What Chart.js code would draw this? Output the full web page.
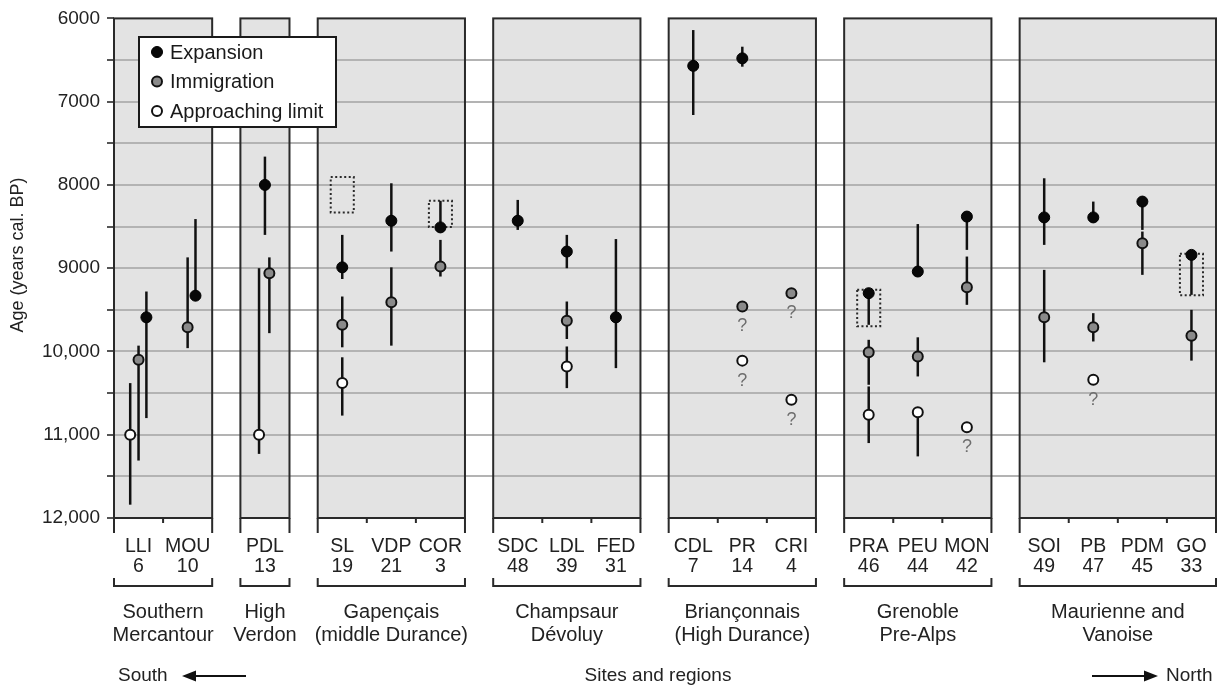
<!DOCTYPE html>
<html>
<head>
<meta charset="utf-8">
<script src="https://cdn.jsdelivr.net/npm/chart.js@4.4.1/dist/chart.umd.min.js"></script>
<style>
html, body { margin: 0; padding: 0; background: #fff; }
</style>
</head>
<body>
<canvas id="chart" width="1223" height="686"></canvas>
<script>
// sites, south to north
const sites = ['LLI','MOU','PDL','SL','VDP','COR','SDC','LDL','FED','CDL','PR','CRI','PRA','PEU','MON','SOI','PB','PDM','GO'];
const siteNums = ['6','10','13','19','21','3','48','39','31','7','14','4','46','44','42','49','47','45','33'];
const regionNames = [['Southern','Mercantour'],['High','Verdon'],['Gapençais','(middle Durance)'],['Champsaur','Dévoluy'],['Briançonnais','(High Durance)'],['Grenoble','Pre-Alps'],['Maurienne and','Vanoise']];
const regionSiteCounts = [2,1,3,3,3,3,4];

// ages (years cal. BP), null = none
const expansion = [9590,9330,8000,8990,8430,8510,8430,8800,9590,6570,6480,null,9300,9040,8380,8390,8390,8200,8840];
const expansionRange = [[9280,10800],[8410,9330],[7660,8600],[8600,9130],[7980,8800],[8190,8510],[8180,8540],[8600,9000],[8650,10200],[6140,7160],[6340,6580],null,[9300,9680],[8470,9040],[8380,8780],[7920,8720],[8200,8390],[8200,8540],[8840,9320]];

const immigration = [10100,9710,9060,9680,9410,8980,null,9630,null,null,9460,9300,10010,10060,9230,9590,9710,8700,9810];
const immigrationRange = [[9930,11310],[8870,9960],[8870,9780],[9340,9950],[8990,9930],[8660,9100],null,[9400,9850],null,null,null,null,[9860,10400],[9830,10300],[8860,9440],[9020,10130],[9540,9880],[8560,9080],[9500,10110]];
const immigrationUnsure = ['PR','CRI'];

const limit = [11000,null,11000,10380,null,null,null,10180,null,null,10110,10580,10760,10730,10910,null,10340,null,null];
const limitRange = [[10380,11840],null,[9000,11230],[10070,10770],null,null,null,[9940,10440],null,null,null,null,[10420,11100],[10730,11260],null,null,null,null,null];
const limitUnsure = ['PR','CRI','MON','PB'];

// dotted boxes
const boxedSites = ['SL','COR','PRA','GO'];
const boxedRange = [[7905,8330],[8190,8506],[9258,9698],[8826,9326]];

const yTicksMin = 6000, yTicksMax = 12000;

// small sideways shifts where bars of one site overlap [expansion, immigration, limit]
const jitter = { LLI: [0.16, 0, -0.17], MOU: [0.16, 0, 0], PDL: [0, 0.09, -0.12] };

const font = "'Liberation Sans', Arial, sans-serif";
const gap = 0.575;

let panels = [];
let siteX = [];
let pos = 0;
regionSiteCounts.forEach(n => {
    panels.push([pos, pos + n]);
    for (let i = 0; i < n; i++) siteX.push(pos + i + 0.5);
    pos += n + gap;
});
const xMax = pos - gap;

function buildPoints(values, ranges, unsure, k) {
    let pts = [];
    values.forEach((v, i) => {
        if (v === null) return;
        let j = jitter[sites[i]] ? jitter[sites[i]][k] : 0;
        pts.push({ x: siteX[i] + j, y: v, range: ranges[i], unsure: unsure.includes(sites[i]) });
    });
    return pts;
}

const panelPlugin = {
    id: 'panels',
    beforeDraw(chart) {
        const { ctx, scales: { x, y } } = chart;
        const top = y.getPixelForValue(yTicksMin), bottom = y.getPixelForValue(yTicksMax);
        ctx.save();
        ctx.fillStyle = '#e3e3e3';
        panels.forEach(p => {
            let l = x.getPixelForValue(p[0]), r = x.getPixelForValue(p[1]);
            ctx.fillRect(l, top, r - l, bottom - top);
        });
        ctx.restore();
    },
    beforeDatasetsDraw(chart) {
        const { ctx, scales: { x, y } } = chart;
        const top = y.getPixelForValue(yTicksMin), bottom = y.getPixelForValue(yTicksMax);
        ctx.save();
        ctx.strokeStyle = '#2a2a2a';
        ctx.lineWidth = 2;
        panels.forEach(p => {
            let l = x.getPixelForValue(p[0]), r = x.getPixelForValue(p[1]);
            ctx.strokeRect(l, top, r - l, bottom - top);
            ctx.beginPath();
            // edges run down a bit, inner ticks between sites
            ctx.moveTo(l, bottom); ctx.lineTo(l, bottom + 15);
            ctx.moveTo(r, bottom); ctx.lineTo(r, bottom + 15);
            for (let s = p[0] + 1; s < p[1] - 0.01; s++) {
                let px = x.getPixelForValue(s);
                ctx.moveTo(px, bottom); ctx.lineTo(px, bottom + 5);
            }
            // bracket under the site labels
            ctx.moveTo(l, bottom + 60); ctx.lineTo(l, bottom + 68);
            ctx.lineTo(r, bottom + 68); ctx.lineTo(r, bottom + 60);
            ctx.stroke();
        });

        // dotted boxes
        ctx.setLineDash([2, 2.5]);
        boxedSites.forEach((s, i) => {
            let cx = siteX[sites.indexOf(s)];
            let l = x.getPixelForValue(cx - 0.235), r = x.getPixelForValue(cx + 0.235);
            let t = y.getPixelForValue(boxedRange[i][0]), b = y.getPixelForValue(boxedRange[i][1]);
            ctx.strokeRect(l, t, r - l, b - t);
        });
        ctx.setLineDash([]);

        // error bars
        ctx.strokeStyle = '#111';
        ctx.lineWidth = 2.5;
        chart.data.datasets.forEach(ds => {
            ds.data.forEach(p => {
                if (!p.range) return;
                let px = x.getPixelForValue(p.x);
                ctx.beginPath();
                ctx.moveTo(px, y.getPixelForValue(p.range[0]));
                ctx.lineTo(px, y.getPixelForValue(p.range[1]));
                ctx.stroke();
            });
        });
        ctx.restore();
    },
    afterDraw(chart) {
        const { ctx, scales: { x, y } } = chart;
        const bottom = y.getPixelForValue(yTicksMax);
        ctx.save();
        ctx.textAlign = 'center';
        ctx.textBaseline = 'middle';

        // question marks under uncertain dates
        ctx.fillStyle = '#6e6e6e';
        ctx.font = '18px ' + font;
        chart.data.datasets.forEach(ds => {
            ds.data.forEach(p => {
                if (p.unsure) ctx.fillText('?', x.getPixelForValue(p.x), y.getPixelForValue(p.y) + 20);
            });
        });

        // region names
        ctx.fillStyle = '#222';
        ctx.font = '20px ' + font;
        panels.forEach((p, i) => {
            let cx = x.getPixelForValue((p[0] + p[1]) / 2);
            ctx.fillText(regionNames[i][0], cx, bottom + 94);
            ctx.fillText(regionNames[i][1], cx, bottom + 117);
        });

        // bottom line: South <-  Sites and regions  -> North
        ctx.font = '19px ' + font;
        ctx.fillText('Sites and regions', 658, 676);
        ctx.textAlign = 'left';
        ctx.fillText('South', 118, 676);
        ctx.fillText('North', 1166, 676);
        ctx.strokeStyle = '#111';
        ctx.fillStyle = '#111';
        ctx.lineWidth = 2;
        ctx.beginPath();
        ctx.moveTo(194, 676); ctx.lineTo(246, 676);
        ctx.moveTo(1092, 676); ctx.lineTo(1146, 676);
        ctx.stroke();
        ctx.beginPath();
        ctx.moveTo(182, 676); ctx.lineTo(196, 670.5); ctx.lineTo(196, 681.5); ctx.closePath();
        ctx.moveTo(1158, 676); ctx.lineTo(1144, 670.5); ctx.lineTo(1144, 681.5); ctx.closePath();
        ctx.fill();

        // y axis title
        ctx.save();
        ctx.translate(18, 255);
        ctx.rotate(-Math.PI / 2);
        ctx.textAlign = 'center';
        ctx.fillStyle = '#222';
        ctx.font = '18px ' + font;
        ctx.fillText('Age (years cal. BP)', 0, 0);
        ctx.restore();

        // legend
        ctx.fillStyle = '#fff';
        ctx.fillRect(139, 37, 197, 90);
        ctx.strokeStyle = '#1a1a1a';
        ctx.lineWidth = 2;
        ctx.strokeRect(139, 37, 197, 90);
        ctx.font = '20px ' + font;
        ctx.textAlign = 'left';
        chart.data.datasets.forEach((ds, i) => {
            let ly = 52 + i * 29.5;
            ctx.beginPath();
            ctx.arc(157, ly, ds.pointRadius, 0, Math.PI * 2);
            ctx.fillStyle = ds.pointBackgroundColor;
            ctx.fill();
            ctx.lineWidth = ds.pointBorderWidth;
            ctx.strokeStyle = ds.pointBorderColor;
            ctx.stroke();
            ctx.fillStyle = '#1a1a1a';
            ctx.fillText(ds.label, 170, ly + 1);
        });
        ctx.restore();
    }
};

function makeChart() {
    let ctx = document.getElementById('chart').getContext('2d');

    let chart = new Chart(ctx, {
        type: 'scatter',
        data: {
            datasets: [{
                label: 'Expansion',
                data: buildPoints(expansion, expansionRange, [], 0),
                pointBackgroundColor: '#080808',
                pointBorderColor: '#000',
                pointBorderWidth: 1,
                pointRadius: 5.5,
            }, {
                label: 'Immigration',
                data: buildPoints(immigration, immigrationRange, immigrationUnsure, 1),
                pointBackgroundColor: '#8a8a8a',
                pointBorderColor: '#111',
                pointBorderWidth: 2,
                pointRadius: 5,
            }, {
                label: 'Approaching limit',
                data: buildPoints(limit, limitRange, limitUnsure, 2),
                pointBackgroundColor: '#fff',
                pointBorderColor: '#111',
                pointBorderWidth: 2,
                pointRadius: 5,
            }]
        },
        options: {
            responsive: false,
            animation: false,
            layout: { padding: { top: 18, right: 1, left: 0, bottom: 0 } },
            scales: {
                x: {
                    type: 'linear',
                    min: 0,
                    max: xMax,
                    grid: { display: false, drawTicks: false },
                    border: { display: false },
                    afterBuildTicks: (axis) => { axis.ticks = siteX.map(v => ({ value: v })); },
                    afterFit: (axis) => {
                        axis.height = 168;
                        //labels never reach the ends, so no extra side padding
                        axis.paddingLeft = 0;
                        axis.paddingRight = 0;
                    },
                    ticks: {
                        autoSkip: false,
                        maxRotation: 0,
                        padding: 19,
                        color: '#222',
                        font: { family: font, size: 19.5, lineHeight: 1.0 },
                        callback: (value, index) => [sites[index], siteNums[index]]
                    }
                },
                y: {
                    reverse: true,
                    min: yTicksMin,
                    max: yTicksMax,
                    border: { display: false },
                    afterFit: (axis) => { axis.width = 114; },
                    grid: {
                        lineWidth: 2,
                        tickLength: 7,
                        tickColor: '#555',
                        color: (c) => (c.tick && (c.tick.value === yTicksMin || c.tick.value === yTicksMax)) ? 'rgba(0,0,0,0)' : '#b3b3b3'
                    },
                    ticks: {
                        stepSize: 500,
                        padding: 7,
                        color: '#222',
                        font: { family: font, size: 19 },
                        callback: function (value) {
                            if (value % 1000 !== 0) return '';
                            return value >= 10000 ? value.toLocaleString('en-US') : String(value);
                        }
                    }
                }
            },
            plugins: {
                legend: { display: false },
                tooltip: { enabled: false }
            }
        },
        plugins: [panelPlugin]
    });
}

makeChart();
</script>
</body>
</html>
